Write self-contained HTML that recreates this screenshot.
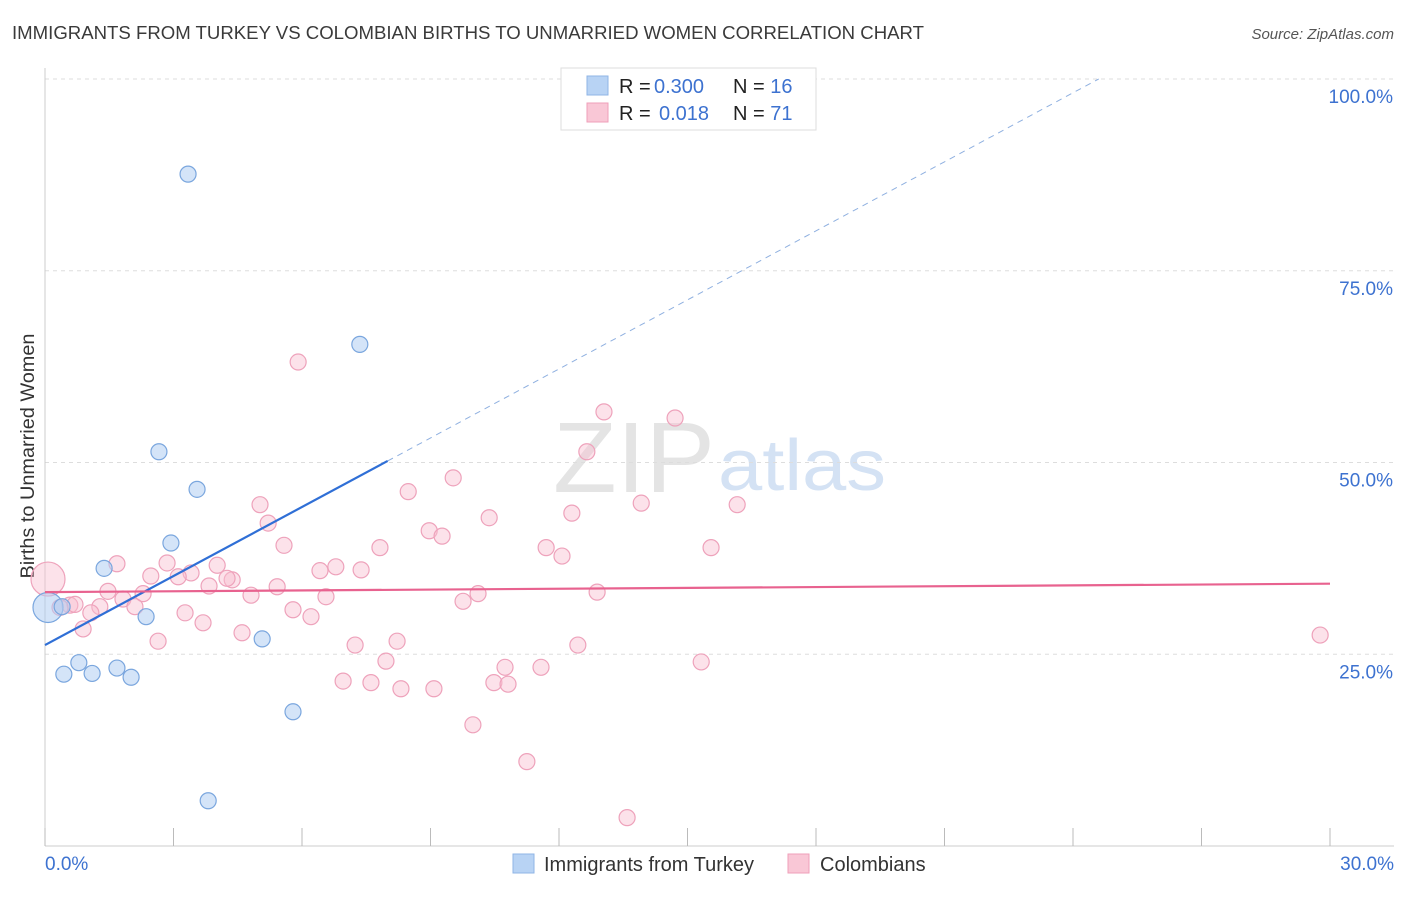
<!DOCTYPE html>
<html><head><meta charset="utf-8">
<style>
body{margin:0;background:#fff;font-family:"Liberation Sans",sans-serif;}
svg text{font-family:"Liberation Sans",sans-serif;}
</style></head>
<body>
<svg id="chart" width="1406" height="892">
<text x="12" y="39" font-size="18" fill="#3a3a3a" textLength="912" lengthAdjust="spacingAndGlyphs">IMMIGRANTS FROM TURKEY VS COLOMBIAN BIRTHS TO UNMARRIED WOMEN CORRELATION CHART</text>
<text x="1394" y="39" font-size="15" fill="#555" font-style="italic" text-anchor="end">Source: ZipAtlas.com</text>
<text transform="translate(34,456) rotate(-90)" font-size="19" fill="#333" text-anchor="middle" textLength="245" lengthAdjust="spacingAndGlyphs">Births to Unmarried Women</text>
<text x="553" y="492" font-size="100" fill="#e4e4e4" font-family="Liberation Serif" textLength="162" lengthAdjust="spacingAndGlyphs">ZIP</text>
<text x="718" y="490" font-size="72" fill="#d4e2f4" textLength="168" lengthAdjust="spacingAndGlyphs">atlas</text>
<g id="axes"></g>
<g id="marks"></g>
<g>
<rect x="561" y="68" width="255" height="62" fill="#fff" stroke="#ddd"/>
<rect x="587" y="76" width="21" height="19" fill="#b8d3f4" stroke="#8fb4e6"/>
<rect x="587" y="103" width="21" height="19" fill="#f9c7d6" stroke="#ef9fb9"/>
<text x="619" y="93" font-size="20" fill="#222">R = <tspan x="654" fill="#3d72d0">0.300</tspan><tspan x="733">N = </tspan><tspan fill="#3d72d0">16</tspan></text>
<text x="619" y="120" font-size="20" fill="#222">R = <tspan x="659" fill="#3d72d0">0.018</tspan><tspan x="733">N = </tspan><tspan fill="#3d72d0">71</tspan></text>
</g>
<g>
<rect x="513" y="854" width="21" height="19" fill="#b8d3f4" stroke="#8fb4e6"/>
<text x="544" y="871" font-size="20" fill="#333">Immigrants from Turkey</text>
<rect x="788" y="854" width="21" height="19" fill="#f9c7d6" stroke="#ef9fb9"/>
<text x="820" y="871" font-size="20" fill="#333">Colombians</text>
</g>
</svg>
<script>
const blueX=[3.34,7.35,2.66,3.55,2.94,1.38,2.36,5.07,0.79,1.68,0.44,1.10,2.01,5.79,3.81,0.07,0.40];
const blueY=[87.6,65.4,51.4,46.5,39.5,36.2,29.9,27.0,23.9,23.2,22.4,22.5,22.0,17.5,5.9,31.1,31.2];
const blueR=[8,8,8,8,8,8,8,8,8,8,8,8,8,8,8,15,8];
const pinkX=[5.91,13.05,14.71,12.65,9.53,8.48,13.92,16.16,5.02,12.30,10.37,5.21,8.97,9.27,5.58,7.82,11.70,15.55,12.07,1.68,2.85,4.02,6.79,6.42,7.38,2.47,3.41,3.11,4.37,4.25,3.83,5.42,1.47,2.29,4.81,12.89,6.56,10.11,9.76,1.82,0.58,1.28,2.10,1.07,3.27,5.79,6.21,3.69,0.89,4.60,2.64,8.22,7.24,12.44,7.96,10.74,15.32,11.58,6.96,7.61,8.31,9.08,10.48,10.81,9.99,11.25,13.59,29.77,0.07,0.70,0.35];
const pinkY=[63.1,56.6,55.8,51.4,48.0,46.2,44.7,44.5,44.5,43.4,42.8,42.1,41.1,40.4,39.2,38.9,38.9,38.9,37.8,36.8,36.9,36.6,36.4,35.9,36.0,35.2,35.6,35.1,34.7,34.9,33.9,33.8,33.2,32.9,32.7,33.1,32.5,32.9,31.9,32.2,31.4,31.2,31.2,30.4,30.4,30.8,29.9,29.1,28.3,27.8,26.7,26.7,26.2,26.2,24.1,23.3,24.0,23.3,21.5,21.3,20.5,20.5,21.3,21.1,15.8,11.0,3.7,27.5,34.8,31.5,31.1];
const pinkR=pinkX.map((v,i)=>i===68?17:8);
const yTicks=[25,50,75,100];
const yTickLabels=["25.0%","50.0%","75.0%","100.0%"];
const xTicks=[0,3,6,9,12,15,18,21,24,27,30];
const blueTrend=[26.2,3.0];
const pinkTrend=[33.1,34.2];

const X=v=>45+v*(1285/30);
const Y=v=>846-v*7.67;
const NS="http://www.w3.org/2000/svg";
function mk(parent,tag,attrs){const e=document.createElementNS(NS,tag);for(const k in attrs)e.setAttribute(k,attrs[k]);parent.appendChild(e);return e;}
const ax=document.getElementById('axes'), mg=document.getElementById('marks');
yTicks.forEach((t,i)=>{
  const g=mk(ax,'line',{x1:45,x2:1394,y1:Y(t),y2:Y(t),stroke:'#ddd','stroke-dasharray':'4,4'});
  
  
  const tx=mk(ax,'text',{x:1393,y:Y(t)+24,'font-size':19,fill:'#3d72d0','text-anchor':'end'});
  tx.textContent=yTickLabels[i];
  
  
});
const yl=mk(ax,'line',{x1:45,x2:45,y1:68,y2:846,stroke:'#ccc'});


const xl=mk(ax,'line',{x1:45,x2:1394,y1:846,y2:846,stroke:'#ccc'});


xTicks.forEach(t=>{
  const l=mk(ax,'line',{x1:X(t),x2:X(t),y1:828,y2:846,stroke:'#bbb'});
  
  
});
const x0=mk(ax,'text',{x:45,y:870,'font-size':19,fill:'#3d72d0'});x0.textContent='0.0%';


const x1=mk(ax,'text',{x:1394,y:870,'font-size':19,fill:'#3d72d0','text-anchor':'end'});x1.textContent='30.0%';



pinkX.forEach((v,i)=>{
  const c=mk(mg,'circle',{cx:X(v),cy:Y(pinkY[i]),r:pinkR[i],fill:'rgba(248,190,208,0.45)',stroke:'#eea2bb','stroke-width':1.2});
  
  
});
blueX.forEach((v,i)=>{
  const c=mk(mg,'circle',{cx:X(v),cy:Y(blueY[i]),r:blueR[i],fill:'rgba(176,205,242,0.55)',stroke:'#7aa6de','stroke-width':1.2});
  
  
});
const bxEnd=8.0, bxDash=(100-blueTrend[0])/blueTrend[1];
const bl=mk(mg,'line',{x1:X(0),y1:Y(blueTrend[0]),x2:X(bxEnd),y2:Y(blueTrend[0]+blueTrend[1]*bxEnd),stroke:'#2f6fd6','stroke-width':2.2});


const bd=mk(mg,'line',{x1:X(bxEnd),y1:Y(blueTrend[0]+blueTrend[1]*bxEnd),x2:X(bxDash),y2:Y(100),stroke:'#8fb0e0','stroke-width':1,'stroke-dasharray':'6,5'});


const pl=mk(mg,'line',{x1:X(0),y1:Y(pinkTrend[0]),x2:X(30),y2:Y(pinkTrend[1]),stroke:'#e8628f','stroke-width':2.2});


</script>
</body></html>
